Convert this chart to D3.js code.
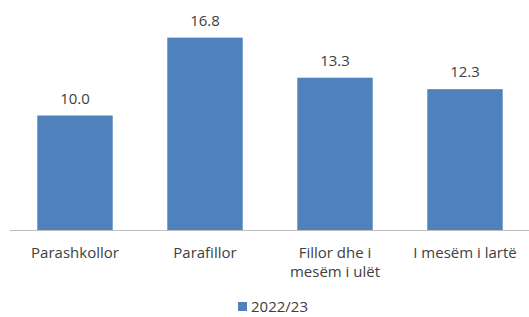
<!DOCTYPE html>
<html>
<head>
<meta charset="utf-8">
<script src="https://cdn.jsdelivr.net/npm/d3@7"></script>
<style>
  body { margin: 0; background: #fff; }
  text { font-family: "Open Sans", "Liberation Sans", sans-serif; fill: #404040; }
</style>
</head>
<body>
<svg width="529" height="317"></svg>
<script>
// Data
const categories = ["Parashkollor", "Parafillor", "Fillor dhe i\nmesëm i ulët", "I mesëm i lartë"];
const values = [10.0, 16.8, 13.3, 12.3];
const seriesName = "2022/23";

const svg = d3.select("svg"),
  width = +svg.attr("width"),
  height = +svg.attr("height");

const margin = { top: 1, left: 10, right: -1, bottom: 87 };
const baseline = height - margin.bottom;

const x = d3.scaleBand()
  .domain(categories)
  .range([margin.left, width - margin.right])
  .paddingInner(0.42)
  .paddingOuter(0.21);

const y = d3.scaleLinear()
  .domain([0, 20])
  .range([baseline, margin.top]);

const color = "#4f81bd";

// bars
svg.append("g")
  .selectAll("rect")
  .data(values)
  .enter()
  .append("rect")
  .attr("x", (d, i) => x(categories[i]))
  .attr("y", d => y(d))
  .attr("width", x.bandwidth())
  .attr("height", d => y(0) - y(d))
  .attr("fill", color);

// value labels
svg.append("g")
  .selectAll("text")
  .data(values)
  .enter()
  .append("text")
  .attr("x", (d, i) => x(categories[i]) + x.bandwidth() / 2)
  .attr("y", d => y(d) - 12)
  .attr("text-anchor", "middle")
  .style("font-size", "15px")
  .text(d => d.toFixed(1));

// axis line
svg.append("line")
  .attr("x1", margin.left)
  .attr("x2", width)
  .attr("y1", baseline + 0.5)
  .attr("y2", baseline + 0.5)
  .attr("stroke", "#bfbfbf");

// category labels
const xAxis = svg.append("g");
categories.forEach(c => {
  const t = xAxis.append("text")
    .attr("x", x(c) + x.bandwidth() / 2)
    .attr("y", baseline + 28)
    .attr("text-anchor", "middle")
    .style("font-size", "15px");
  c.split("\n").forEach((line, j) => {
    t.append("tspan")
      .attr("x", x(c) + x.bandwidth() / 2)
      .attr("dy", j === 0 ? 0 : 19)
      .text(line);
  });
});

// legend
const legend = svg.append("g");
legend.append("rect")
  .attr("x", 238)
  .attr("y", 302)
  .attr("width", 9)
  .attr("height", 9)
  .attr("fill", color);
legend.append("text")
  .attr("x", 251)
  .attr("y", 312)
  .style("font-size", "15px")
  .text(seriesName);
</script>
</body>
</html>
